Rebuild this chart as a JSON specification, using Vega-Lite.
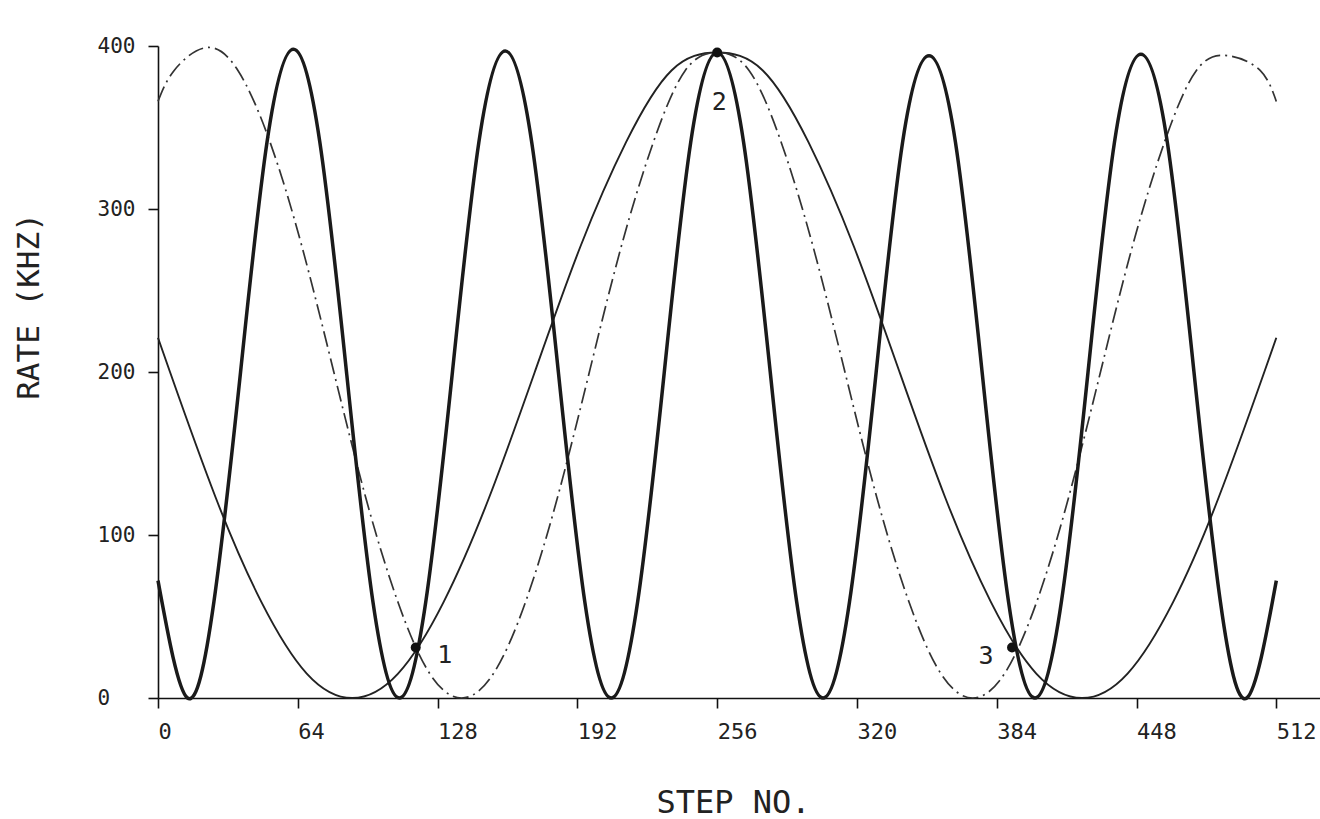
{
  "$schema": "https://vega.github.io/schema/vega-lite/v6.json",
  "width": 1162,
  "height": 652,
  "autosize": {"type": "none"},
  "padding": {"left": 158, "top": 46, "right": 0, "bottom": 121},
  "background": "white",
  "config": {"view": {"stroke": null}, "font": "DejaVu Sans Mono"},
  "datasets": {
    "curves": [
      {"curve": "thick", "step": 0, "rate": 72},
      {"curve": "thick", "step": 13.5, "rate": 0},
      {"curve": "thick", "step": 25.6, "rate": 59},
      {"curve": "thick", "step": 37.8, "rate": 200},
      {"curve": "thick", "step": 49.9, "rate": 341},
      {"curve": "thick", "step": 62, "rate": 398},
      {"curve": "thick", "step": 74.1, "rate": 341},
      {"curve": "thick", "step": 86.3, "rate": 200},
      {"curve": "thick", "step": 98.4, "rate": 59},
      {"curve": "thick", "step": 110.5, "rate": 0},
      {"curve": "thick", "step": 122.6, "rate": 59},
      {"curve": "thick", "step": 134.8, "rate": 200},
      {"curve": "thick", "step": 146.9, "rate": 341},
      {"curve": "thick", "step": 159, "rate": 397},
      {"curve": "thick", "step": 171.1, "rate": 341},
      {"curve": "thick", "step": 183.3, "rate": 200},
      {"curve": "thick", "step": 195.4, "rate": 59},
      {"curve": "thick", "step": 207.5, "rate": 0},
      {"curve": "thick", "step": 219.6, "rate": 59},
      {"curve": "thick", "step": 231.8, "rate": 200},
      {"curve": "thick", "step": 243.9, "rate": 341},
      {"curve": "thick", "step": 256, "rate": 396},
      {"curve": "thick", "step": 268.1, "rate": 341},
      {"curve": "thick", "step": 280.3, "rate": 200},
      {"curve": "thick", "step": 292.4, "rate": 59},
      {"curve": "thick", "step": 304.5, "rate": 0},
      {"curve": "thick", "step": 316.6, "rate": 59},
      {"curve": "thick", "step": 328.8, "rate": 200},
      {"curve": "thick", "step": 340.9, "rate": 341},
      {"curve": "thick", "step": 353, "rate": 394},
      {"curve": "thick", "step": 365.1, "rate": 341},
      {"curve": "thick", "step": 377.3, "rate": 200},
      {"curve": "thick", "step": 389.4, "rate": 59},
      {"curve": "thick", "step": 401.5, "rate": 0},
      {"curve": "thick", "step": 413.6, "rate": 59},
      {"curve": "thick", "step": 425.8, "rate": 200},
      {"curve": "thick", "step": 437.9, "rate": 341},
      {"curve": "thick", "step": 450, "rate": 395},
      {"curve": "thick", "step": 462.1, "rate": 341},
      {"curve": "thick", "step": 474.3, "rate": 200},
      {"curve": "thick", "step": 486.4, "rate": 59},
      {"curve": "thick", "step": 498.5, "rate": 0},
      {"curve": "thick", "step": 512, "rate": 72},

      {"curve": "thin", "step": 0, "rate": 221},
      {"curve": "thin", "step": 5.5, "rate": 200},
      {"curve": "thin", "step": 26.4, "rate": 123},
      {"curve": "thin", "step": 47.3, "rate": 59},
      {"curve": "thin", "step": 68.1, "rate": 15},
      {"curve": "thin", "step": 89, "rate": 0},
      {"curve": "thin", "step": 109.9, "rate": 15},
      {"curve": "thin", "step": 130.8, "rate": 59},
      {"curve": "thin", "step": 151.6, "rate": 123},
      {"curve": "thin", "step": 172.5, "rate": 200},
      {"curve": "thin", "step": 193.4, "rate": 277},
      {"curve": "thin", "step": 214.3, "rate": 341},
      {"curve": "thin", "step": 235.1, "rate": 385},
      {"curve": "thin", "step": 256, "rate": 396},
      {"curve": "thin", "step": 276.9, "rate": 385},
      {"curve": "thin", "step": 297.8, "rate": 341},
      {"curve": "thin", "step": 318.6, "rate": 277},
      {"curve": "thin", "step": 339.5, "rate": 200},
      {"curve": "thin", "step": 360.4, "rate": 123},
      {"curve": "thin", "step": 381.3, "rate": 59},
      {"curve": "thin", "step": 402.1, "rate": 15},
      {"curve": "thin", "step": 423, "rate": 0},
      {"curve": "thin", "step": 443.9, "rate": 15},
      {"curve": "thin", "step": 464.8, "rate": 59},
      {"curve": "thin", "step": 485.6, "rate": 123},
      {"curve": "thin", "step": 506.5, "rate": 200},
      {"curve": "thin", "step": 512, "rate": 221},

      {"curve": "dashdot", "step": 0, "rate": 366},
      {"curve": "dashdot", "step": 7.4, "rate": 385},
      {"curve": "dashdot", "step": 22, "rate": 399},
      {"curve": "dashdot", "step": 36.6, "rate": 385},
      {"curve": "dashdot", "step": 51.3, "rate": 341},
      {"curve": "dashdot", "step": 65.9, "rate": 277},
      {"curve": "dashdot", "step": 80.5, "rate": 200},
      {"curve": "dashdot", "step": 95.1, "rate": 123},
      {"curve": "dashdot", "step": 109.8, "rate": 59},
      {"curve": "dashdot", "step": 124.4, "rate": 15},
      {"curve": "dashdot", "step": 139, "rate": 0},
      {"curve": "dashdot", "step": 153.6, "rate": 15},
      {"curve": "dashdot", "step": 168.3, "rate": 59},
      {"curve": "dashdot", "step": 182.9, "rate": 123},
      {"curve": "dashdot", "step": 197.5, "rate": 200},
      {"curve": "dashdot", "step": 212.1, "rate": 277},
      {"curve": "dashdot", "step": 226.8, "rate": 341},
      {"curve": "dashdot", "step": 241.4, "rate": 385},
      {"curve": "dashdot", "step": 256, "rate": 396},
      {"curve": "dashdot", "step": 270.6, "rate": 385},
      {"curve": "dashdot", "step": 285.3, "rate": 341},
      {"curve": "dashdot", "step": 299.9, "rate": 277},
      {"curve": "dashdot", "step": 314.5, "rate": 200},
      {"curve": "dashdot", "step": 329.1, "rate": 123},
      {"curve": "dashdot", "step": 343.8, "rate": 59},
      {"curve": "dashdot", "step": 358.4, "rate": 15},
      {"curve": "dashdot", "step": 373, "rate": 0},
      {"curve": "dashdot", "step": 387.6, "rate": 15},
      {"curve": "dashdot", "step": 402.3, "rate": 59},
      {"curve": "dashdot", "step": 416.9, "rate": 123},
      {"curve": "dashdot", "step": 431.5, "rate": 200},
      {"curve": "dashdot", "step": 446.1, "rate": 277},
      {"curve": "dashdot", "step": 460.8, "rate": 341},
      {"curve": "dashdot", "step": 475.4, "rate": 385},
      {"curve": "dashdot", "step": 490, "rate": 394},
      {"curve": "dashdot", "step": 504.6, "rate": 385},
      {"curve": "dashdot", "step": 512, "rate": 366}
    ],
    "points": [
      {"label": "1", "step": 118, "rate": 31},
      {"label": "2", "step": 256, "rate": 396},
      {"label": "3", "step": 391, "rate": 31}
    ]
  },
  "encoding": {
    "x": {
      "field": "step",
      "type": "quantitative",
      "scale": {"domain": [0, 532], "nice": false, "zero": false},
      "axis": {
        "values": [0, 64, 128, 192, 256, 320, 384, 448, 512],
        "title": "STEP NO.",
        "grid": false,
        "domainColor": "#111111",
        "domainWidth": 1.6,
        "tickColor": "#111111",
        "tickWidth": 1.6,
        "tickSize": 10,
        "labelFont": "DejaVu Sans Mono",
        "labelFontSize": 22,
        "labelColor": "#222222",
        "labelAlign": "left",
        "labelDx": -3,
        "labelBaseline": "top",
        "labelPadding": 13,
        "labelFlush": false,
        "labelOverlap": false,
        "titleFont": "DejaVu Sans Mono",
        "titleFontSize": 32,
        "titleFontWeight": "normal",
        "titleColor": "#222222",
        "titleX": 575,
        "titleY": 104,
        "titleBaseline": "middle",
        "titleAlign": "center"
      }
    },
    "y": {
      "field": "rate",
      "type": "quantitative",
      "scale": {"domain": [0, 400], "nice": false},
      "axis": {
        "values": [0, 100, 200, 300, 400],
        "title": "RATE (KHZ)",
        "grid": false,
        "domainColor": "#111111",
        "domainWidth": 1.6,
        "tickColor": "#111111",
        "tickWidth": 1.6,
        "tickSize": 10,
        "labelFont": "DejaVu Sans Mono",
        "labelFontSize": 21,
        "labelColor": "#222222",
        "labelAlign": "left",
        "labelBaseline": "middle",
        "labelPadding": 51,
        "labelFlush": false,
        "labelOverlap": false,
        "titleFont": "DejaVu Sans Mono",
        "titleFontSize": 31,
        "titleFontWeight": "normal",
        "titleColor": "#222222",
        "titleAngle": -90,
        "titleX": -129,
        "titleY": 260,
        "titleBaseline": "middle",
        "titleAlign": "center"
      }
    }
  },
  "layer": [
    {
      "data": {"name": "curves"},
      "transform": [{"filter": "datum.curve === 'thin'"}],
      "mark": {"type": "line", "interpolate": "natural", "stroke": "#222222", "strokeWidth": 1.9}
    },
    {
      "data": {"name": "curves"},
      "transform": [{"filter": "datum.curve === 'dashdot'"}],
      "mark": {"type": "line", "interpolate": "natural", "stroke": "#333333", "strokeWidth": 1.7, "strokeDash": [16, 5, 2, 5]}
    },
    {
      "data": {"name": "curves"},
      "transform": [{"filter": "datum.curve === 'thick'"}],
      "mark": {"type": "line", "interpolate": "natural", "stroke": "#1a1a1a", "strokeWidth": 3.5}
    },
    {
      "data": {"name": "points"},
      "mark": {"type": "point", "filled": true, "size": 100, "color": "#111111", "opacity": 1}
    },
    {
      "data": {"name": "points"},
      "transform": [{"filter": "datum.label === '1'"}],
      "mark": {"type": "text", "dx": 29, "dy": 8, "fontSize": 25, "font": "DejaVu Sans Mono", "color": "#222222", "align": "center", "baseline": "middle"},
      "encoding": {"text": {"field": "label"}}
    },
    {
      "data": {"name": "points"},
      "transform": [{"filter": "datum.label === '2'"}],
      "mark": {"type": "text", "dx": 2, "dy": 49, "fontSize": 25, "font": "DejaVu Sans Mono", "color": "#222222", "align": "center", "baseline": "middle"},
      "encoding": {"text": {"field": "label"}}
    },
    {
      "data": {"name": "points"},
      "transform": [{"filter": "datum.label === '3'"}],
      "mark": {"type": "text", "dx": -26, "dy": 9, "fontSize": 25, "font": "DejaVu Sans Mono", "color": "#222222", "align": "center", "baseline": "middle"},
      "encoding": {"text": {"field": "label"}}
    }
  ]
}
